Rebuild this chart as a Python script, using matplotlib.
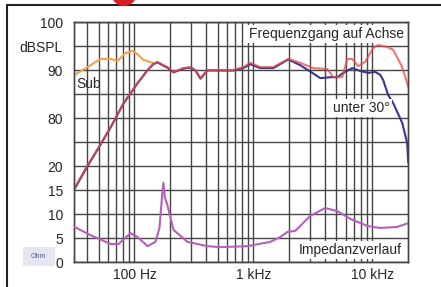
import matplotlib
matplotlib.use("Agg")
import matplotlib.pyplot as plt
from matplotlib.patches import Rectangle, Ellipse

plt.rcParams['font.family'] = ['Liberation Sans', 'DejaVu Sans']

# Sub (orange), SPL in dB
sub_freq = [31.3, 40.3, 51.8, 62.9, 72.0, 84.0, 96.2, 106, 119, 142]
sub_db = [89.0, 90.6, 92.3, 92.3, 91.9, 93.5, 94.0, 93.3, 92.1, 91.5]

# on axis (red)
axis_freq = [31.3, 39.5, 48.9, 62.9, 80.8, 106, 129, 144, 156, 175, 189, 213,
             258, 296, 326, 359, 411, 528, 679, 824, 944, 1145, 1472, 1968,
             2483, 3192, 4188, 4700, 5598, 6166, 6792, 7625, 8730, 10190,
             11220, 13370, 15010, 17870, 20090]
axis_db = [65.4, 69.8, 73.5, 78.1, 83.1, 87.3, 90.0, 91.25, 91.7, 91.0, 90.6, 89.6,
           90.4, 90.6, 90.0, 88.3, 90.0, 90.0, 90.0, 90.6, 91.5, 90.6, 90.6, 92.3,
           91.5, 90.4, 90.2, 88.5, 88.5, 92.3, 92.3, 90.8, 91.7, 94.6,
           95.2, 94.8, 94.2, 90.6, 86.5]

# 30 degrees off axis (blue)
off_freq = [31.3, 39.5, 48.9, 62.9, 80.8, 106, 129, 144, 156, 175, 189, 213,
            258, 296, 326, 359, 411, 528, 679, 824, 944, 1145, 1472, 1968,
            2483, 3133, 3657, 4437, 5082, 5705, 6792, 7925, 9250, 10590,
            11670, 12370, 13620, 15010, 17870, 19680, 20090]
off_db = [65.2, 69.6, 73.4, 78.0, 83.0, 87.2, 90.0, 91.2, 91.6, 90.9, 90.5, 89.5,
          90.3, 90.5, 89.9, 88.2, 89.9, 89.9, 89.9, 90.4, 91.2, 90.4, 90.4, 92.2,
          91.0, 89.4, 88.3, 88.5, 88.5, 89.4, 90.4, 89.8, 89.4, 89.6,
          89.0, 87.9, 84.8, 83.1, 79.0, 74.8, 70.8]

# impedance in Ohm
imp_freq = [31.3, 42.7, 62.9, 73.4, 92.6, 106, 129, 150, 162, 167, 171, 175,
            180, 189, 213, 279, 411, 528, 891, 1390, 1686, 1931, 2254, 3013,
            4029, 5082, 6533, 9087, 11670, 16220, 20090]
imp_ohm = [7.3, 5.6, 3.75, 3.75, 6.0, 5.2, 3.3, 4.2, 7.0, 10.8, 14.0, 16.5,
           13.5, 11.9, 6.7, 4.2, 3.3, 3.1, 3.3, 4.2, 5.2, 6.25, 6.5, 9.6,
           11.25, 10.6, 9.0, 7.5, 7.1, 7.3, 8.1]

W, H = 441, 287
fig = plt.figure(figsize=(W / 100, H / 100), dpi=100)
ax = fig.add_axes([74 / W, 25 / H, 334 / W, 240 / H])
ax2 = ax.twinx()

grid_col = '#454545'
txt_col = '#262626'

ax.set_xscale('log')
ax.set_xlim(31, 20000)
ax.set_ylim(50, 100)
ax2.set_ylim(0, 50)

ax.set_yticks(range(50, 101, 5))
spl_labels = {100: '100', 95: 'dBSPL', 90: '90', 80: '80'}
ax.set_yticklabels([spl_labels.get(v, '') for v in range(50, 101, 5)])
for lab in ax.get_yticklabels():
    if lab.get_text() == 'dBSPL':
        lab.set_fontsize(7.5)
ax.tick_params(axis='y', length=0, pad=8, labelsize=10, labelcolor=txt_col)

ax2.yaxis.tick_left()
ax2.set_yticks([0, 5, 10, 15, 20])
ax2.set_yticklabels(['0', '5', '10', '15', '20'])
ax2.tick_params(axis='y', length=0, pad=8, labelsize=10, labelcolor=txt_col)

ax.set_xticks([100, 1000, 10000])
ax.set_xticklabels(['100 Hz', '1 kHz', '10 kHz'])
ax.set_xticks([f * d for d in (10, 100, 1000) for f in range(2, 10)
               if 31 < f * d < 20000], minor=True)
ax.tick_params(axis='x', which='both', length=0, pad=4, labelsize=10,
               labelcolor=txt_col)
ax.xaxis.set_minor_formatter(matplotlib.ticker.NullFormatter())

ax.grid(True, which='both', color=grid_col, linewidth=1.0)
ax.set_axisbelow(True)
for a in (ax, ax2):
    for s in a.spines.values():
        s.set_color(grid_col)
        s.set_linewidth(1.0)

ax.plot(sub_freq, sub_db, color='#f5a04a', linewidth=1.5, zorder=3)
ax.plot(off_freq, off_db, color='#3a3590', linewidth=1.5, zorder=3)
ax.plot(axis_freq, axis_db, color='#e84a46', linewidth=1.5, zorder=4,
        alpha=0.75)
ax2.plot(imp_freq, imp_ohm, color='#b660bc', linewidth=1.5, zorder=3)

box = dict(facecolor='white', edgecolor='none', pad=1.5)
ax2.text(0.988, 0.95, 'Frequenzgang auf Achse', transform=ax.transAxes,
         ha='right', va='center', fontsize=10, color=txt_col, bbox=box)
ax2.text(0.946, 0.642, 'unter 30°', transform=ax.transAxes,
         ha='right', va='center', fontsize=10, color=txt_col, bbox=box)
ax2.text(0.982, 0.05, 'Impedanzverlauf', transform=ax.transAxes,
         ha='right', va='center', fontsize=10, color=txt_col, bbox=box)
ax2.text(0.008, 0.742, 'Sub', transform=ax.transAxes,
         ha='left', va='center', fontsize=10, color=txt_col)

# Ohm unit box at lower left
fig.patches.append(Rectangle((23 / W, (H - 266) / H), 32 / W, 19 / H,
                             transform=fig.transFigure, facecolor='#e6e6f2',
                             edgecolor='none', zorder=0))
fig.text(38 / W, (H - 256) / H, 'Ohm', fontsize=5, color='#4a5a9a',
         ha='center', va='center')

# outer frame and red marker cut off at the top
fig.patches.append(Rectangle((7 / W, -0.1), 1.2, (H - 5) / H + 0.1,
                             transform=fig.transFigure, facecolor='none',
                             edgecolor='#222222', linewidth=1.5))
fig.patches.append(Ellipse((124 / W, 1 + 7 / H), 26 / W, 26 / H,
                           transform=fig.transFigure, facecolor='#d42020',
                           edgecolor='none'))

fig.savefig('out.png', dpi=100)
